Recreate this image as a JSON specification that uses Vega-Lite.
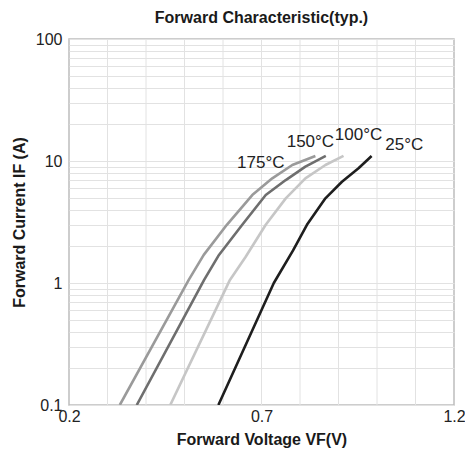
{
  "$schema": "https://vega.github.io/schema/vega-lite/v6.json",
  "width": 385,
  "height": 366,
  "autosize": {"type": "none"},
  "padding": {"left": 69, "top": 39, "right": 11, "bottom": 56},
  "background": "white",
  "title": {"text": "Forward Characteristic(typ.)", "font": "Liberation Sans", "fontSize": 16, "fontWeight": "bold", "color": "#1a1a1a", "anchor": "middle", "offset": 5},
  "config": {"view": {"stroke": "#bdbdbd", "strokeWidth": 1.5}},
  "datasets": {
    "vgrid": [
      {"gv": 0.3}, {"gv": 0.4}, {"gv": 0.5}, {"gv": 0.6}, {"gv": 0.7}, {"gv": 0.8}, {"gv": 0.9}, {"gv": 1.0}, {"gv": 1.1}
    ],
    "curves": [
      {"T": "175", "VF": 0.332, "IF": 0.1},
      {"T": "175", "VF": 0.511, "IF": 1.06},
      {"T": "175", "VF": 0.55, "IF": 1.7},
      {"T": "175", "VF": 0.61, "IF": 3.0},
      {"T": "175", "VF": 0.676, "IF": 5.26},
      {"T": "175", "VF": 0.728, "IF": 7.21},
      {"T": "175", "VF": 0.78, "IF": 9.27},
      {"T": "175", "VF": 0.84, "IF": 11.0},
      {"T": "150", "VF": 0.376, "IF": 0.1},
      {"T": "150", "VF": 0.551, "IF": 1.06},
      {"T": "150", "VF": 0.588, "IF": 1.67},
      {"T": "150", "VF": 0.65, "IF": 3.0},
      {"T": "150", "VF": 0.711, "IF": 5.26},
      {"T": "150", "VF": 0.763, "IF": 6.98},
      {"T": "150", "VF": 0.814, "IF": 8.98},
      {"T": "150", "VF": 0.867, "IF": 11.0},
      {"T": "100", "VF": 0.463, "IF": 0.1},
      {"T": "100", "VF": 0.618, "IF": 1.06},
      {"T": "100", "VF": 0.659, "IF": 1.64},
      {"T": "100", "VF": 0.711, "IF": 3.0},
      {"T": "100", "VF": 0.763, "IF": 4.94},
      {"T": "100", "VF": 0.814, "IF": 7.21},
      {"T": "100", "VF": 0.866, "IF": 9.27},
      {"T": "100", "VF": 0.913, "IF": 11.0},
      {"T": "25", "VF": 0.588, "IF": 0.1},
      {"T": "25", "VF": 0.732, "IF": 1.0},
      {"T": "25", "VF": 0.782, "IF": 1.85},
      {"T": "25", "VF": 0.818, "IF": 3.0},
      {"T": "25", "VF": 0.866, "IF": 4.94},
      {"T": "25", "VF": 0.909, "IF": 6.76},
      {"T": "25", "VF": 0.952, "IF": 8.71},
      {"T": "25", "VF": 0.986, "IF": 11.0}
    ],
    "labels": [
      {"label": "175°C", "VF": 0.698, "IF": 9.68},
      {"label": "150°C", "VF": 0.827, "IF": 14.4},
      {"label": "100°C", "VF": 0.952, "IF": 16.3},
      {"label": "25°C", "VF": 1.071, "IF": 13.5}
    ]
  },
  "layer": [
    {
      "data": {"name": "vgrid"},
      "mark": {"type": "rule", "color": "#e2e2e2", "strokeWidth": 1},
      "encoding": {
        "x": {"field": "gv", "type": "quantitative"}
      }
    },
    {
      "data": {"name": "curves"},
      "mark": {"type": "line", "strokeWidth": 2.6, "clip": true, "strokeJoin": "round"},
      "encoding": {
        "x": {
          "field": "VF", "type": "quantitative",
          "scale": {"domain": [0.2, 1.2], "nice": false, "zero": false},
          "axis": {
            "title": "Forward Voltage VF(V)",
            "titleFont": "Liberation Sans", "titleFontSize": 16, "titleFontWeight": "bold", "titleColor": "#1a1a1a", "titlePadding": 7,
            "values": [0.2, 0.7, 1.2],
            "format": ".1f",
            "grid": false,
            "ticks": false, "domain": false,
            "labelFont": "Liberation Sans", "labelFontSize": 16, "labelColor": "#222222", "labelPadding": 3,
            "labelOverlap": false, "labelBound": false, "labelFlush": false
          }
        },
        "y": {
          "field": "IF", "type": "quantitative",
          "scale": {"type": "log", "domain": [0.1, 100], "nice": false},
          "axis": {
            "title": "Forward Current IF (A)",
            "titleFont": "Liberation Sans", "titleFontSize": 16, "titleFontWeight": "bold", "titleColor": "#1a1a1a", "titlePadding": 8,
            "values": [0.1, 0.2, 0.3, 0.4, 0.5, 0.6, 0.7, 0.8, 0.9, 1, 2, 3, 4, 5, 6, 7, 8, 9, 10, 20, 30, 40, 50, 60, 70, 80, 90, 100],
            "labelExpr": "abs(datum.value - 0.1) < 0.0001 ? '0.1' : datum.value == 1 ? '1' : datum.value == 10 ? '10' : datum.value == 100 ? '100' : ''",
            "grid": true, "gridColor": "#e2e2e2", "gridWidth": 1,
            "ticks": false, "domain": false,
            "labelFont": "Liberation Sans", "labelFontSize": 16, "labelColor": "#222222", "labelPadding": 7,
            "labelOverlap": false, "labelBound": false, "labelFlush": false
          }
        },
        "color": {
          "field": "T", "type": "nominal",
          "scale": {"domain": ["175", "150", "100", "25"], "range": ["#9a9a9a", "#6e6e6e", "#c6c6c6", "#1e1e1e"]},
          "legend": null
        },
        "order": {"field": "VF", "type": "quantitative"}
      }
    },
    {
      "data": {"name": "labels"},
      "mark": {"type": "text", "font": "Liberation Sans", "fontSize": 17, "color": "#222222", "align": "center", "baseline": "middle"},
      "encoding": {
        "x": {"field": "VF", "type": "quantitative"},
        "y": {"field": "IF", "type": "quantitative"},
        "text": {"field": "label", "type": "nominal"}
      }
    }
  ]
}
